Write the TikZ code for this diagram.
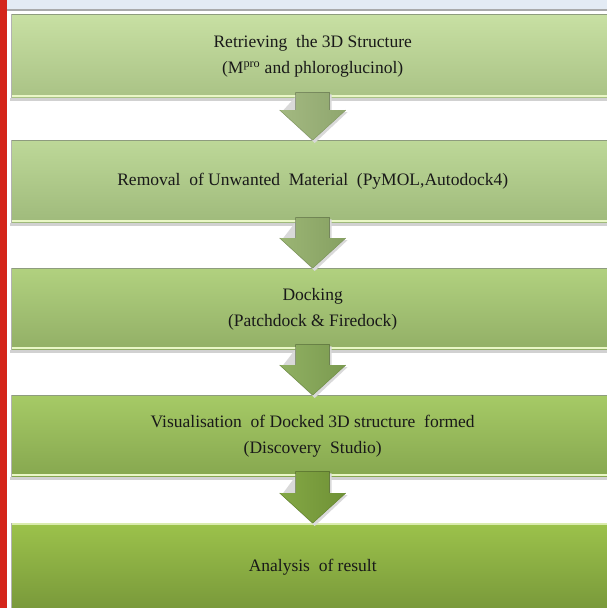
\documentclass[tikz,border=0pt]{standalone}
\usepackage{fontspec}
\setmainfont{Liberation Serif}
\usetikzlibrary{calc}
\definecolor{redbar}{HTML}{D4251A}
\definecolor{topstrip}{HTML}{E3EBF4}
\definecolor{stripline}{HTML}{A9AAAB}
\definecolor{gA}{HTML}{C8E0A3}\definecolor{gAb}{HTML}{A9C285}
\definecolor{gB}{HTML}{BDD898}\definecolor{gBb}{HTML}{9FBA7B}
\definecolor{gC}{HTML}{B1D17F}\definecolor{gCb}{HTML}{92AF66}
\definecolor{gD}{HTML}{A6CA66}\definecolor{gDb}{HTML}{86A74F}
\definecolor{gE}{HTML}{9CC24B}\definecolor{gEb}{HTML}{78983A}
\definecolor{aA}{HTML}{A3B981}\definecolor{aAd}{HTML}{8FA66E}
\definecolor{aB}{HTML}{9BB574}\definecolor{aBd}{HTML}{86A062}
\definecolor{aC}{HTML}{90B062}\definecolor{aCd}{HTML}{7B9A50}
\definecolor{aD}{HTML}{84A845}\definecolor{aDd}{HTML}{6F9136}
\definecolor{hilite}{HTML}{E9F7C6}
\definecolor{rim}{HTML}{8E9C7E}
\newcommand\stagebevel[1]{%
  \fill[black!18] ($(#1.south west)+(-1,0)$) rectangle ($(#1.south east)+(0,2.5)$);
  \draw[hilite,line width=2pt] ($(#1.south west)+(1,-2)$) -- ($(#1.south east)+(0,-2)$);
  \draw[rim,line width=1.2pt] ($(#1.north west)+(0,0.5)$) -- ($(#1.north east)+(0,0.5)$);
  \draw[black!30,line width=1pt] ($(#1.north west)+(0.5,0)$) -- ($(#1.south west)+(0.5,0)$);
}
\newcommand\flowarrow[4]{%
  \fill[black!15] ($(#1.south)+(-15,-4)$) -- ($(#1.south)+(19,-4)$) -- ($(#2.north)+(19,-28)$) -- ($(#2.north)+(35,-28)$) -- ($(#2.north)+(2,3)$) -- ($(#2.north)+(-31,-28)$) -- cycle;
  \fill[left color=#3, right color=#4] ($(#1.south)+(-17,-6)$) -- ($(#1.south)+(17,-6)$) -- ($(#2.north)+(17,-30)$) -- ($(#2.north)+(33,-30)$) -- (#2.north) -- ($(#2.north)+(-33,-30)$) -- ($(#2.north)+(-17,-30)$) -- cycle;
  \draw[#4,line width=0.6pt] ($(#2.north)+(-33,-30)$) -- (#2.north) -- ($(#2.north)+(33,-30)$);
}
\begin{document}
\begin{tikzpicture}[x=1pt,y=-1pt,
  stage/.style={anchor=north west, minimum width=603pt, minimum height=83pt,
    inner sep=0pt, align=center, text=black!90,
    font=\fontsize{17.5}{26}\selectfont}]
\useasboundingbox (0,0) rectangle (607,608);
\clip (0,0) rectangle (607,608);
\fill[white] (0,0) rectangle (607,608);
\fill[topstrip] (0,0) rectangle (607,8.5);
\fill[stripline] (0,8.5) rectangle (607,11);
\fill[redbar] (0,0) rectangle (6.5,608);

\node[stage, minimum height=84pt, top color=gA, bottom color=gAb] (b1) at (11,14)
  {Retrieving~ the 3D Structure\\(M\textsuperscript{pro} and phloroglucinol)};
\node[stage, top color=gB, bottom color=gBb] (b2) at (11,140)
  {Removal~ of Unwanted~ Material~ (PyMOL,Autodock4)};
\node[stage, minimum height=82pt, top color=gC, bottom color=gCb] (b3) at (11,268)
  {Docking\\(Patchdock \& Firedock)};
\node[stage, minimum height=82pt, top color=gD, bottom color=gDb] (b4) at (11,395)
  {Visualisation~ of Docked 3D structure~ formed\\(Discovery~ Studio)};
\node[stage, minimum height=88pt, top color=gE, bottom color=gEb] (b5) at (11,523)
  {\raisebox{-3pt}{Analysis~ of result}};

\stagebevel{b1}
\stagebevel{b2}
\stagebevel{b3}
\stagebevel{b4}
\draw[hilite!80!gE,line width=1.5pt] ($(b5.north west)+(1,1)$) -- ($(b5.north east)+(0,1)$);
\draw[black!30,line width=1pt] ($(b5.north west)+(0.5,0)$) -- ($(b5.south west)+(0.5,0)$);

\flowarrow{b1}{b2}{aA}{aAd}
\flowarrow{b2}{b3}{aB}{aBd}
\flowarrow{b3}{b4}{aC}{aCd}
\flowarrow{b4}{b5}{aD}{aDd}
\end{tikzpicture}
\end{document}
